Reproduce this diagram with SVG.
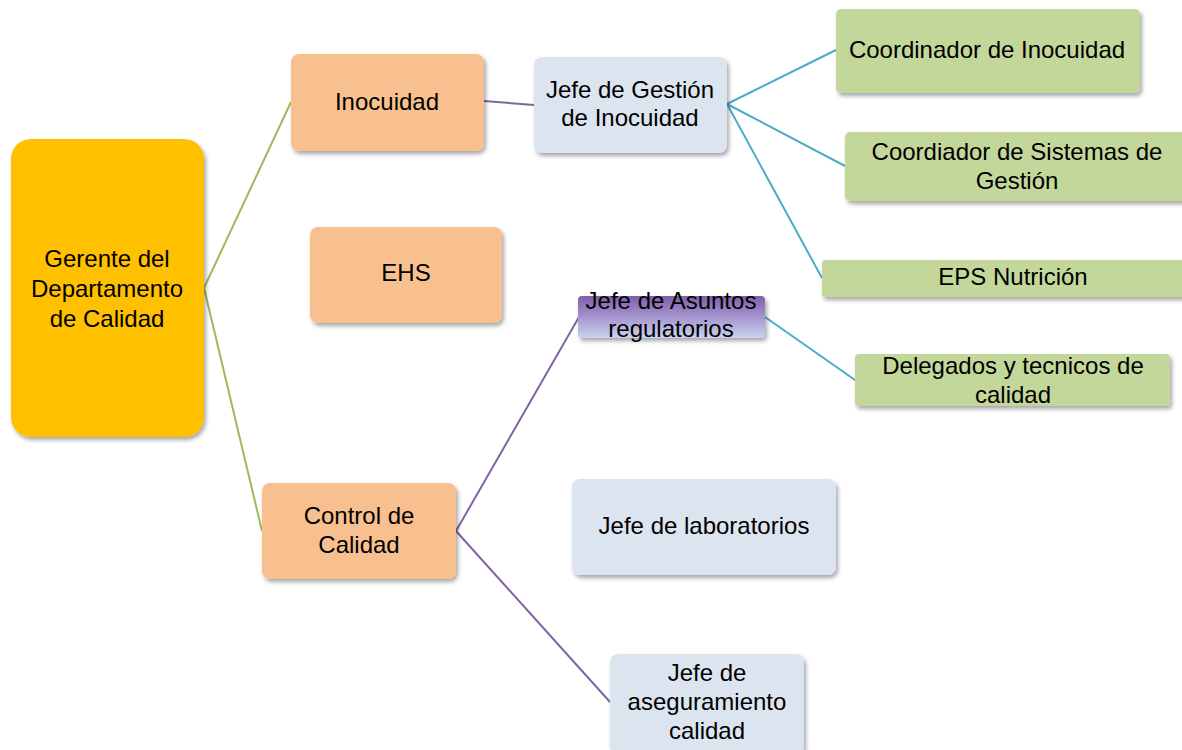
<svg xmlns="http://www.w3.org/2000/svg" width="1182" height="750" viewBox="0 0 1182 750">
<defs>
<filter id="sh" x="-10%" y="-10%" width="130%" height="140%">
<feDropShadow dx="2" dy="3" stdDeviation="2" flood-color="#000" flood-opacity="0.35"/>
</filter>
<linearGradient id="purp" x1="0" y1="0" x2="0" y2="1">
<stop offset="0" stop-color="#7E5FA8"/>
<stop offset="0.5" stop-color="#A595CF"/>
<stop offset="1" stop-color="#C9D3EE"/>
</linearGradient>
<style>
text{font-family:"Liberation Sans",Arial,sans-serif;font-size:24px;fill:#000;text-anchor:middle}
.gold{fill:#FFC000;filter:url(#sh)}
.peach{fill:#F9C08F;filter:url(#sh)}
.blue{fill:#DCE4F0;filter:url(#sh)}
.green{fill:#C4D79B;filter:url(#sh)}
.grad{fill:url(#purp);filter:url(#sh)}
.cg{stroke:#9BBB59;stroke-width:2;fill:none}
.cp{stroke:#8064A2;stroke-width:2;fill:none}
.ct{stroke:#4BACC6;stroke-width:2;fill:none}
</style>
</defs>
<rect width="1182" height="750" fill="#fff"/>
<g id="connectors">
<line class="cg" x1="204" y1="288" x2="291" y2="102"/>
<line class="cg" x1="204" y1="288" x2="262" y2="531"/>
<line class="cp" x1="484" y1="101" x2="534" y2="105"/>
<line class="cp" x1="456" y1="531" x2="579" y2="317"/>
<line class="cp" x1="456" y1="531" x2="610" y2="702"/>
<line class="ct" x1="727" y1="104" x2="836" y2="50"/>
<line class="ct" x1="727" y1="104" x2="845" y2="166"/>
<line class="ct" x1="727" y1="104" x2="822" y2="278"/>
<line class="ct" x1="765" y1="317" x2="855" y2="380"/>
</g>
<g id="n-gerente">
<rect class="gold" x="11" y="139" width="193" height="298" rx="20"/>
<text x="107" y="267">Gerente del</text>
<text x="107" y="297">Departamento</text>
<text x="107" y="327">de Calidad</text>
</g>
<g id="n-inocuidad">
<rect class="peach" x="291" y="54" width="193" height="97" rx="8"/>
<text x="387" y="110">Inocuidad</text>
</g>
<g id="n-ehs">
<rect class="peach" x="310" y="227" width="192" height="96" rx="8"/>
<text x="406" y="281">EHS</text>
</g>
<g id="n-control">
<rect class="peach" x="262" y="483" width="194" height="96" rx="8"/>
<text x="359" y="524">Control de</text>
<text x="359" y="553">Calidad</text>
</g>
<g id="n-jefe-gestion">
<rect class="blue" x="534" y="57" width="193" height="96" rx="8"/>
<text x="630" y="98">Jefe de Gestión</text>
<text x="630" y="126">de Inocuidad</text>
</g>
<g id="n-jefe-asuntos">
<rect class="grad" x="578" y="296" width="187" height="42" rx="4"/>
<text x="671" y="309">Jefe de Asuntos</text>
<text x="671" y="337">regulatorios</text>
</g>
<g id="n-jefe-lab">
<rect class="blue" x="572" y="479" width="264" height="96" rx="8"/>
<text x="704" y="534">Jefe de laboratorios</text>
</g>
<g id="n-jefe-aseg">
<rect class="blue" x="610" y="654" width="194" height="100" rx="8"/>
<text x="707" y="681">Jefe de</text>
<text x="707" y="710">aseguramiento</text>
<text x="707" y="739">calidad</text>
</g>
<g id="n-coord-inocuidad">
<rect class="green" x="836" y="9" width="304" height="84" rx="5"/>
<text x="987" y="58">Coordinador de Inocuidad</text>
</g>
<g id="n-coord-sistemas">
<rect class="green" x="845" y="132" width="345" height="69" rx="5"/>
<text x="1017" y="160">Coordiador de Sistemas de</text>
<text x="1017" y="189">Gestión</text>
</g>
<g id="n-eps">
<rect class="green" x="822" y="260" width="370" height="37" rx="3"/>
<text x="1013" y="285">EPS Nutrición</text>
</g>
<g id="n-delegados">
<rect class="green" x="855" y="354" width="315" height="52" rx="4"/>
<text x="1013" y="374">Delegados y tecnicos de</text>
<text x="1013" y="403">calidad</text>
</g>
</svg>
